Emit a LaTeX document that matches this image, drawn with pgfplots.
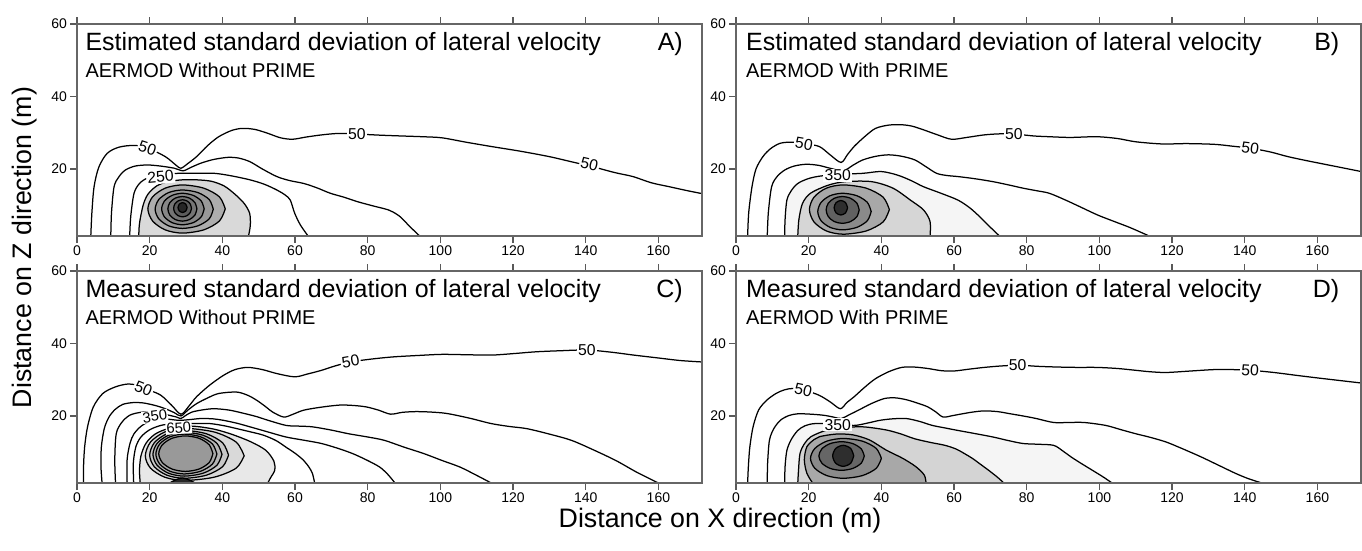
\documentclass[border=0pt]{standalone}
\usepackage{fontspec}
\setmainfont{Liberation Sans}
\usepackage{pgfplots}
\pgfplotsset{compat=1.18}

\pgfplotsset{
  panel/.style={
    scale only axis, width=250pt, height=84.8pt,
    xmin=0, xmax=172, ymin=1.5, ymax=60,
    xtick={0,20,...,160}, ytick={20,40,60},
    tick align=outside, xtick pos=both, ytick pos=left,
    major tick length=2.8pt,
    axis line style={draw=black!60, line width=0.75pt},
    tick style={black!65, line width=0.5pt},
    ticklabel style={font=\fontsize{5.6}{6}\selectfont, inner sep=1pt},
    /pgf/number format/assume math mode=true,
    axis on top, clip=true,
  },
  cl/.style={black, line width=0.5pt, smooth},
}
\tikzset{
  lab/.style={fill=white, inner sep=0.5pt, font=\fontsize{6.3}{7}\selectfont},
  ttl/.style={anchor=base west, inner sep=0pt, font=\fontsize{10}{12}\selectfont},
  sub/.style={anchor=base west, inner sep=0pt, font=\fontsize{8}{10}\selectfont},
  tag/.style={anchor=base east, inner sep=0pt, font=\fontsize{10}{12}\selectfont},
}

\begin{document}
\begin{tikzpicture}
\useasboundingbox (0,0) rectangle (544.8pt,-220pt);

% ---------------- A) estimated, without PRIME
\begin{axis}[panel, at={(30.8pt,-94.4pt)}, anchor=south west]
\addplot[cl] coordinates {(3.8,1.5) (4.1,8) (4.7,15.1) (6,20.5) (8.3,24.3) (11.5,26) (15.7,26.5) (19.4,25.8) (24.3,23.4) (27.3,21) (28.6,20.2) (30.5,21.5) (32.9,23.4) (36,26.5) (39,28.9) (42.5,30.6) (45.5,31.2) (49,30.9) (52.6,29.8) (56,28.6) (59.3,28.2) (63,28.8) (67.3,29.4) (72,29.8) (77.7,29.6) (84,29.3) (89.4,29.1) (95,28.9) (100.4,28.6) (107,27.4) (114,26.2) (122,24.9) (130,23.4) (136,22) (142,20.6) (148,19) (153,17.9) (158,16.2) (163,15.1) (168,14) (172,13.2)};
\addplot[cl] coordinates {(9.3,1.5) (9.5,8) (10.2,15.1) (11.5,17.8) (13.3,19.7) (16,20.8) (19.4,21.1) (23,20.8) (26.8,20.2) (29.2,19.5) (31.5,20.5) (34.1,21.6) (37.5,22.6) (41.5,23.2) (44.5,23) (47.6,22) (51,20) (55,17.9) (58.5,16.8) (62.4,16) (66,14.8) (69.7,13.3) (73.5,12.2) (77.1,11) (81.5,9.8) (85.7,8.7) (88,7.5) (89.4,6.4) (91.5,4.2) (94.3,1.5)};
\addplot[cl] coordinates {(14.5,1.5) (14.8,7) (15.7,13.3) (17.2,16) (19.4,17.5) (22.5,18.1) (25.5,18.6) (28,18.8) (33,18.8) (37.8,18.8) (42.5,18.1) (47.6,17) (51.5,15.8) (55,14.2) (57.3,12.8) (58.7,11.4) (59.9,7.8) (61.5,4.5) (63.6,1.5)};
\addplot[cl, fill=black!15] coordinates {(17,1.5) (17.2,5) (18.2,10) (19.5,13) (21.9,15.3) (25,16.5) (29,17) (33,17) (37,16.6) (40.5,15.3) (43.5,13) (46,10.5) (47.5,7.8) (47.7,4.5) (47.2,1.5)} -- cycle;
\addplot[cl, fill=black!32] coordinates {(40.8,9) (39.2,12.3) (34.9,14.7) (29,15.6) (24.25,14.7) (20.8,12.3) (19.5,9) (20.8,5.65) (24.25,3.2) (29,2.3) (34.9,3.2) (39.2,5.65) (40.8,9)} -- cycle;
\addplot[cl, fill=black!40] coordinates {(37.5,8.9) (36.4,11.55) (33.25,13.5) (29,14.2) (25.25,13.5) (22.5,11.55) (21.5,8.9) (22.5,6.25) (25.25,4.3) (29,3.6) (33.25,4.3) (36.4,6.25) (37.5,8.9)} -- cycle;
\addplot[cl, fill=black!47] coordinates {(35,9) (34.2,11.15) (32,12.7) (29,13.3) (26.15,12.7) (24.05,11.15) (23.3,9) (24.05,6.8) (26.15,5.2) (29,4.6) (32,5.2) (34.2,6.8) (35,9)} -- cycle;
\addplot[cl, fill=black!54] coordinates {(33,9) (32.46,10.7) (31,11.94) (29,12.4) (27,11.94) (25.54,10.7) (25,9) (25.54,7.3) (27,6.06) (29,5.6) (31,6.06) (32.46,7.3) (33,9)} -- cycle;
\addplot[cl, fill=black!64] coordinates {(31.5,9.15) (31.17,10.33) (30.28,11.18) (29.05,11.5) (27.83,11.18) (26.93,10.33) (26.6,9.15) (26.93,7.98) (27.83,7.12) (29.05,6.8) (30.28,7.12) (31.17,7.98) (31.5,9.15)} -- cycle;
\addplot[cl, fill=black!85] coordinates {(30.3,9.35) (29.93,10.3) (29.05,10.7) (28.17,10.3) (27.8,9.35) (28.17,8.4) (29.05,8) (29.93,8.4) (30.3,9.35)} -- cycle;
\node[lab, rotate=-18] at (axis cs:19.4,25.8) {50};
\node[lab] at (axis cs:77,29.6) {50};
\node[lab, rotate=-13] at (axis cs:141,21.2) {50};
\node[lab, rotate=5] at (axis cs:23,17.8) {250};
\node[ttl] at (rel axis cs:0.0128,0.873) {Estimated standard deviation of lateral velocity};
\node[tag] at (rel axis cs:0.97,0.873) {A)};
\node[sub] at (rel axis cs:0.0128,0.749) {AERMOD Without PRIME};
\end{axis}

% ---------------- B) estimated, with PRIME
\begin{axis}[panel, at={(294.4pt,-94.4pt)}, anchor=south west]
\addplot[cl] coordinates {(3.2,1.5) (3.5,8) (4.4,15.1) (5.5,20) (7.4,23.4) (9.5,25.6) (12.2,27.1) (15.5,27.4) (18.7,27) (22.9,26.2) (25.9,23.9) (28.9,21.8) (30.7,24) (32.5,26.2) (35.5,29) (38.4,31.2) (42,32.1) (45.6,32.2) (48.5,31.8) (51.6,30.8) (55.5,29.4) (59.3,28.2) (63.5,28.7) (68.3,29.4) (73,29.7) (77.9,29.5) (82,29.1) (86.2,28.9) (92,28.7) (99.3,28.9) (105,28.4) (110,27.5) (117.3,26.9) (124,27) (131.6,26.8) (136.5,26.3) (141.7,25.7) (147,24.7) (151.9,23.4) (157,22.3) (162,21.3) (167,20.3) (172,19.3)};
\addplot[cl] coordinates {(8.6,1.5) (8.9,8) (9.8,15.1) (11.3,17.9) (13.4,19.7) (16,20.8) (19.3,21.3) (22.7,21) (25.9,20.2) (29.5,19.5) (32.3,21.1) (34.9,22.5) (38.5,23.5) (42,23.9) (45.6,23.5) (49.2,22.5) (52.3,20.6) (55.2,18.8) (58,18.2) (61.1,17.9) (65.8,17.3) (70.7,16.5) (75,15.6) (79,14.7) (82.7,14) (86.2,13.3) (90.5,11.5) (94.6,9.6) (99.5,7.3) (104.1,5.5) (108.5,3.8) (113.7,1.5)};
\addplot[cl, fill=black!4] coordinates {(13.4,1.5) (13.5,6) (14,11.4) (15.2,14) (17,16) (19.8,17.3) (22.9,18) (28,18.5) (34.9,18.8) (39.6,19.3) (42.7,18.8) (45.6,17.9) (48.6,16.6) (51.6,15.1) (56.4,13.3) (61.1,11.4) (64.3,9.3) (67.1,6.8) (69.8,4.1) (72.5,1.5)} -- cycle;
\addplot[cl, fill=black!16] coordinates {(17,1.5) (17.3,6) (18.3,10.5) (20.5,13.3) (25.3,15.5) (30.1,16.5) (37.3,16.5) (43.2,14.7) (48,11.4) (51.6,8.7) (53.4,5.5) (53.4,1.5)} -- cycle;
\addplot[cl, fill=black!34] coordinates {(42.2,8.8) (40.5,12.2) (35.85,14.7) (29.5,15.6) (24.85,14.7) (21.45,12.2) (20.2,8.8) (21.45,5.4) (24.85,2.9) (29.5,2) (35.85,2.9) (40.5,5.4) (42.2,8.8)} -- cycle;
\addplot[cl, fill=black!46] coordinates {(37.2,8.25) (36.14,10.78) (33.25,12.62) (29.3,13.3) (25.9,12.62) (23.41,10.78) (22.5,8.25) (23.41,5.72) (25.9,3.88) (29.3,3.2) (33.25,3.88) (36.14,5.72) (37.2,8.25)} -- cycle;
\addplot[cl, fill=black!62] coordinates {(33.9,8.7) (33.27,10.55) (31.55,11.9) (29.2,12.4) (27,11.9) (25.39,10.55) (24.8,8.7) (25.39,6.85) (27,5.5) (29.2,5) (31.55,5.5) (33.27,6.85) (33.9,8.7)} -- cycle;
\addplot[cl, fill=black!82] coordinates {(30.7,9.3) (30.16,10.71) (28.85,11.3) (27.54,10.71) (27,9.3) (27.54,7.89) (28.85,7.3) (30.16,7.89) (30.7,9.3)} -- cycle;
\node[lab, rotate=-10] at (axis cs:18.7,26.9) {50};
\node[lab] at (axis cs:76.5,29.6) {50};
\node[lab, rotate=-7] at (axis cs:141.5,25.7) {50};
\node[lab] at (axis cs:28,18.2) {350};
\node[ttl] at (rel axis cs:0.0154,0.873) {Estimated standard deviation of lateral velocity};
\node[tag] at (rel axis cs:0.966,0.873) {B)};
\node[sub] at (rel axis cs:0.0154,0.749) {AERMOD With PRIME};
\end{axis}

% ---------------- C) measured, without PRIME
\begin{axis}[panel, at={(30.8pt,-193.2pt)}, anchor=south west]
\addplot[cl] coordinates {(1.8,1.5) (1.8,6) (2.1,11.4) (2.9,17) (4.5,22.5) (7.1,26.2) (10.5,28) (13.9,28.8) (17,28.4) (20,27.1) (23.1,25.7) (26,23) (28.6,20.5) (30.7,22.6) (32.9,25.3) (36.5,28.5) (40.3,31.2) (43.5,32.8) (47,33.4) (51,32.8) (55,31.7) (59.9,30.8) (63.5,31.6) (67.3,32.6) (71,33.8) (75.3,34.9) (81,35.7) (87,36.3) (94,36.7) (100.4,37) (107,36.9) (114,36.8) (120,37.2) (126.2,37.7) (133,38) (140.3,38.2) (147,37.6) (153.2,36.8) (160,36) (166,35.3) (172,34.9)};
\addplot[cl] coordinates {(6.9,1.5) (6.6,6) (6.7,11.4) (7.5,16.5) (8.8,19.7) (10.5,21.8) (12.6,23.2) (15.5,23.7) (18.2,23.6) (21.5,22.9) (24.3,22) (26.8,20.9) (28.6,20) (30.5,21.6) (32.9,23.4) (36,25) (39,26.2) (43.9,26.6) (47,25.7) (49.5,24.3) (52,22.5) (53.8,21.1) (56.9,19.7) (59.5,20.5) (62.4,21.6) (67,22.4) (72.2,23) (76,22.9) (79.6,22.5) (83,21.6) (86.3,20.5) (89.5,21) (93.1,21.2) (97,21.1) (101.7,20.7) (108,19.4) (114,17.9) (119,17.1) (123.8,16.5) (130,15) (136,13.3) (142,10.7) (148.3,7.7) (154,4.5) (160,1.5)};
\addplot[cl] coordinates {(10.6,1.5) (10.4,8) (10.8,15.1) (12.3,18.2) (14.5,20.2) (17.5,21) (20.6,21.1) (24,20.5) (27.4,19.7) (28.6,19.3) (30,20.2) (31.7,21.1) (34.7,21.7) (37.8,22) (42,21.6) (46.4,20.6) (49.5,19.8) (52.6,18.8) (57.5,17.4) (61,17.2) (64.8,17) (70,16.1) (74.7,15.1) (80,14.2) (84.5,13.3) (90,11.4) (95.5,9.6) (100.5,7.7) (105.4,5.9) (110,3.6) (114,1.5)};
\addplot[cl] coordinates {(13.8,1.5) (13.8,8) (14.6,12.5) (15.7,15.1) (17.8,17.3) (20.6,18.8) (24,19.2) (28,18.8) (31,19) (34.1,19.3) (37.5,19.2) (40.3,18.8) (44,18) (47.6,17) (52.5,15.6) (57.5,14.2) (62.5,13.3) (67.3,12.4) (72,11) (75.9,9.6) (79.8,7.8) (83.3,5.9) (85.6,3.8) (87.5,1.5)};
\addplot[cl] coordinates {(15.6,1.5) (15.5,7) (16.2,11.5) (17.6,14.2) (20,16.2) (23.1,17.4) (26,17.8) (29.2,17.9) (33,17.9) (36.6,17.9) (40.5,17.3) (44,16.5) (47.8,15.6) (51.3,14.7) (54.8,13.2) (57.5,11.4) (60.3,9.5) (62.4,7.7) (63.9,5.8) (64.8,4.1) (65.4,1.5)};
\addplot[cl, fill=black!9] coordinates {(17.4,1.5) (17.2,5) (17.6,9) (19,12.5) (21.5,15) (25,16.5) (29,17.2) (33,17.1) (38,16.3) (43,14.8) (48,12.8) (52,10.5) (54.2,7.5) (54.4,5) (53.3,3) (52.5,1.5)} -- cycle;
\addplot[cl, fill=black!15] coordinates {(46,9) (43.79,12.8) (37.75,15.58) (29.5,16.6) (24.15,15.58) (20.23,12.8) (18.8,9) (20.23,5.6) (24.15,3.11) (29.5,2.2) (37.75,3.11) (43.79,5.6) (46,9)} -- cycle;
\addplot[cl, fill=black!22] coordinates {(41.7,9.2) (40.07,12.6) (35.6,15.09) (29.5,16) (24.75,15.09) (21.27,12.6) (20,9.2) (21.27,6) (24.75,3.66) (29.5,2.8) (35.6,3.66) (40.07,6) (41.7,9.2)} -- cycle;
\addplot[cl, fill=black!29] coordinates {(39.9,9.4) (38.51,12.45) (34.7,14.68) (29.5,15.5) (25.2,14.68) (22.05,12.45) (20.9,9.4) (22.05,6.4) (25.2,4.2) (29.5,3.4) (34.7,4.2) (38.51,6.4) (39.9,9.4)} -- cycle;
\addplot[cl, fill=black!34] coordinates {(38.5,9.5) (37.29,12.25) (34,14.26) (29.5,15) (25.6,14.26) (22.75,12.25) (21.7,9.5) (22.75,6.75) (25.6,4.74) (29.5,4) (34,4.74) (37.29,6.75) (38.5,9.5)} -- cycle;
\addplot[cl, fill=black!40] coordinates {(37.4,9.6) (36.38,12.05) (33.6,13.84) (29.8,14.5) (26.15,13.84) (23.48,12.05) (22.5,9.6) (23.48,7.15) (26.15,5.36) (29.8,4.7) (33.6,5.36) (36.38,7.15) (37.4,9.6)} -- cycle;
\addplot[cl, fill=black!85] coordinates {(25.5,1.5) (27,2.3) (29,2.9) (31,2.3) (32.5,1.5)} -- cycle;
\node[lab, rotate=-22] at (axis cs:18.3,27.6) {50};
\node[lab, rotate=10] at (axis cs:75.3,35) {50};
\node[lab] at (axis cs:140.3,38.2) {50};
\node[lab, rotate=8, font=\fontsize{5.9}{6}\selectfont, inner sep=0.3pt] at (axis cs:21.4,19.9) {350};
\node[lab, rotate=4, font=\fontsize{5.9}{6}\selectfont, inner sep=0.3pt] at (axis cs:28,16.7) {650};
\node[ttl] at (rel axis cs:0.0128,0.873) {Measured standard deviation of lateral velocity};
\node[tag] at (rel axis cs:0.97,0.873) {C)};
\node[sub] at (rel axis cs:0.0128,0.749) {AERMOD Without PRIME};
\end{axis}

% ---------------- D) measured, with PRIME
\begin{axis}[panel, at={(294.4pt,-193.2pt)}, anchor=south west]
\addplot[cl] coordinates {(3.2,1.5) (3.4,6) (3.8,11.4) (4.7,17) (6.2,21.6) (8.4,24.3) (11,26.2) (13.3,27.2) (15.8,27.6) (19.2,27) (22.9,25.7) (25.9,23.9) (28.7,22) (30.5,23.7) (32.5,25.3) (35.5,28) (38.4,30.3) (42,32.2) (45.6,33.4) (49,33.5) (52.8,33.1) (56.5,32.5) (59.9,32.4) (64,32.9) (68.3,33.4) (73,33.8) (77.9,34) (83,33.7) (88.6,33.5) (94,33.4) (99.3,33.4) (105,33.1) (110,32.6) (114,32.2) (118.4,32) (125,32.4) (131.6,32.8) (136.5,32.8) (141.7,32.6) (148,32) (154.3,31.2) (160,30.5) (166,29.8) (172,29.1)};
\addplot[cl] coordinates {(8.6,1.5) (8.7,7) (9.2,13.3) (10.4,16.5) (12.2,18.8) (14.5,20.1) (17,20.6) (20.5,20.5) (24.1,20.2) (26.8,19.7) (28.9,19.3) (31.3,20.4) (33.7,21.6) (37.2,23.4) (40.8,24.8) (43.8,25) (46.8,24.5) (49.8,23.6) (52.8,22.5) (55,21.1) (57,19.7) (59.6,20.1) (62.3,20.6) (65.3,21.1) (68.3,21.4) (72,21.2) (75.5,20.6) (79,20) (82.6,19.3) (87.4,18.2) (91.5,18.2) (95.8,18.2) (101.7,17.4) (106,16.2) (110,15.1) (114,14.1) (118.4,12.8) (123,10.9) (128,8.7) (133,6.3) (137.6,4.1) (141,2.7) (144.7,1.5)};
\addplot[cl, fill=black!4] coordinates {(13.4,1.5) (13.5,6) (14,10.5) (15.2,13.5) (17,16) (19,17.3) (21.7,17.9) (27,17.8) (32.5,17.4) (36,18) (39.6,18.8) (43,19.2) (46.8,19.3) (50.5,18.5) (54,17.4) (57.5,16.7) (61.1,16) (66,15.1) (70.7,14.2) (75,13.2) (79,12.4) (83,12.2) (87.4,11.9) (90,10.3) (92.2,8.7) (95,6.9) (98.1,5) (101,3.2) (103.5,1.5)} -- cycle;
\addplot[cl, fill=black!17] coordinates {(17,1.5) (17.2,5) (17.6,9.6) (18.8,12.3) (20.5,14.2) (23.5,15.6) (26.5,16.5) (30.5,16.9) (34.9,17) (38.5,16.6) (42,16) (45.5,15) (49.2,13.7) (53.5,12.7) (57.5,11.9) (60.5,10.9) (62.9,9.6) (65.2,8.2) (67.1,6.8) (69,5.4) (70.7,4.1) (72.3,2.8) (73.7,1.5)} -- cycle;
\addplot[cl, fill=black!34] coordinates {(21.1,1.5) (19.5,4.2) (18.8,7.9) (19.5,11.5) (21.5,13.5) (23,14.3) (27.5,15) (32.1,14.8) (36.7,13.4) (41.3,10.6) (45.9,8.3) (49.5,6) (51.8,3.7) (52.3,1.5)} -- cycle;
\addplot[cl, fill=black!46] coordinates {(40,8.3) (38.59,11.05) (34.75,13.06) (29.5,13.8) (25,13.06) (21.71,11.05) (20.5,8.3) (21.71,5.55) (25,3.54) (29.5,2.8) (34.75,3.54) (38.59,5.55) (40,8.3)} -- cycle;
\addplot[cl, fill=black!60] coordinates {(35.3,8.95) (34.46,10.93) (32.15,12.37) (29,12.9) (25.9,12.37) (23.63,10.93) (22.8,8.95) (23.63,6.98) (25.9,5.53) (29,5) (32.15,5.53) (34.46,6.98) (35.3,8.95)} -- cycle;
\addplot[cl, fill=black!82] coordinates {(32.4,9) (31.55,11.05) (29.5,11.9) (27.45,11.05) (26.6,9) (27.45,6.95) (29.5,6.1) (31.55,6.95) (32.4,9)} -- cycle;
\node[lab, rotate=-12] at (axis cs:18.5,27.2) {50};
\node[lab] at (axis cs:77.5,34) {50};
\node[lab, rotate=-3] at (axis cs:141.5,32.6) {50};
\node[lab] at (axis cs:28,17.6) {350};
\node[ttl] at (rel axis cs:0.0154,0.873) {Measured standard deviation of lateral velocity};
\node[tag] at (rel axis cs:0.966,0.873) {D)};
\node[sub] at (rel axis cs:0.0154,0.749) {AERMOD With PRIME};
\end{axis}

\node[font=\fontsize{10.7}{12}\selectfont] at (288pt,-208.4pt) {Distance on X direction (m)};
\node[rotate=90, font=\fontsize{10.7}{12}\selectfont] at (10pt,-99pt) {Distance on Z direction (m)};
\end{tikzpicture}
\end{document}
